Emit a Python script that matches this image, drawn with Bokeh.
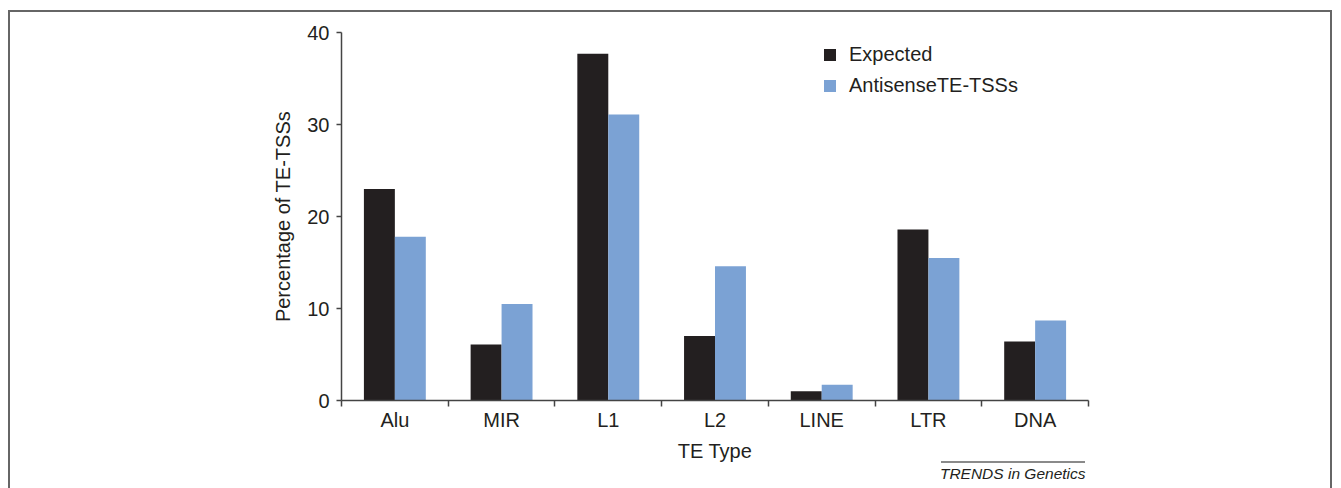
from bokeh.plotting import figure
from bokeh.models import (Range1d, FixedTicker, Legend, LegendItem, Title, InlineStyleSheet)
from bokeh.embed import file_html
from bokeh.resources import INLINE

categories = ["Alu", "MIR", "L1", "L2", "LINE", "LTR", "DNA"]
expected = [23.0, 6.1, 37.7, 7.0, 1.0, 18.6, 6.4]
antisense = [17.8, 10.5, 31.1, 14.6, 1.7, 15.5, 8.7]
y_ticks = [0, 10, 20, 30, 40]
series_names = ["Expected", "AntisenseTE-TSSs"]
x_title = "TE Type"
y_title = "Percentage of TE-TSSs"
credit = "TRENDS in Genetics"

FONT = "Liberation Sans"
TXT = "#231f20"
C_EXP = "#231f20"
C_ANT = "#7ba2d4"

css = InlineStyleSheet(css="""
:host { position: relative; overflow: hidden; }
:host::after { content: ""; position: absolute; left: 8px; top: 10px; width: 1324px; height: 520px;
  border: 2px solid #666666; pointer-events: none; box-sizing: border-box; }
:host::before { content: ""; position: absolute; left: 941px; top: 461px; width: 144px; height: 2px;
  background: #8a8a8a; pointer-events: none; z-index: 5; }
""")

p = figure(width=1341, height=488, output_backend="svg", toolbar_location=None,
           x_range=Range1d(0, len(categories)), y_range=Range1d(0, 40),
           stylesheets=[css])
p.min_border_left = 341
p.min_border_right = 253
p.min_border_top = 32
p.min_border_bottom = 88
p.outline_line_color = None
p.grid.visible = False
p.background_fill_color = "white"
p.border_fill_color = "white"

centers = [i + 0.5 for i in range(len(categories))]
bw = 0.29
r1 = p.vbar(x=[c - bw / 2 for c in centers], top=expected, width=bw, color=C_EXP, line_color=None)
r2 = p.vbar(x=[c + bw / 2 for c in centers], top=antisense, width=bw, color=C_ANT, line_color=None)

# x axis
xa = p.xaxis[0]
xa.ticker = FixedTicker(ticks=centers, minor_ticks=list(range(len(categories) + 1)))
xa.major_label_overrides = {c: lab for c, lab in zip(centers, categories)}
xa.major_tick_out = 0
xa.major_tick_in = 0
xa.minor_tick_out = 6
xa.minor_tick_in = 0
xa.minor_tick_line_color = "#444444"
xa.minor_tick_line_width = 1.5
xa.axis_line_color = "#444444"
xa.axis_line_width = 1.5
xa.major_label_text_font = FONT
xa.major_label_text_font_size = "20px"
xa.major_label_text_color = TXT
xa.major_label_standoff = 2
xa.axis_label = x_title
xa.axis_label_text_font = FONT
xa.axis_label_text_font_size = "20px"
xa.axis_label_text_font_style = "normal"
xa.axis_label_text_color = TXT
xa.axis_label_standoff = 6

ya = p.yaxis[0]
ya.ticker = FixedTicker(ticks=y_ticks, minor_ticks=[])
ya.major_tick_out = 5
ya.major_tick_in = 0
ya.major_tick_line_color = "#444444"
ya.major_tick_line_width = 1.5
ya.axis_line_color = "#444444"
ya.axis_line_width = 1.5
ya.major_label_text_font = FONT
ya.major_label_text_font_size = "20px"
ya.major_label_text_color = TXT
ya.major_label_standoff = 7
ya.axis_label = y_title
ya.axis_label_text_font = FONT
ya.axis_label_text_font_size = "20px"
ya.axis_label_text_font_style = "normal"
ya.axis_label_text_color = TXT
ya.axis_label_standoff = 10

legend = Legend(items=[LegendItem(label=series_names[0], renderers=[r1]),
                       LegendItem(label=series_names[1], renderers=[r2])],
                location=(481, 303))
legend.border_line_color = None
legend.background_fill_alpha = 0
legend.padding = 0
legend.margin = 0
legend.glyph_width = 15
legend.glyph_height = 15
legend.label_height = 20
legend.spacing = 8
legend.label_standoff = 12
legend.label_text_font = FONT
legend.label_text_font_size = "20px"
legend.label_text_color = TXT
p.add_layout(legend)

credit_title = Title(text=credit, align="right", text_font=FONT, text_font_size="15.5px",
                     text_font_style="italic", text_color=TXT, offset=3, standoff=-4)
p.add_layout(credit_title, "below")

open("out.html", "w").write(file_html(p, INLINE))
